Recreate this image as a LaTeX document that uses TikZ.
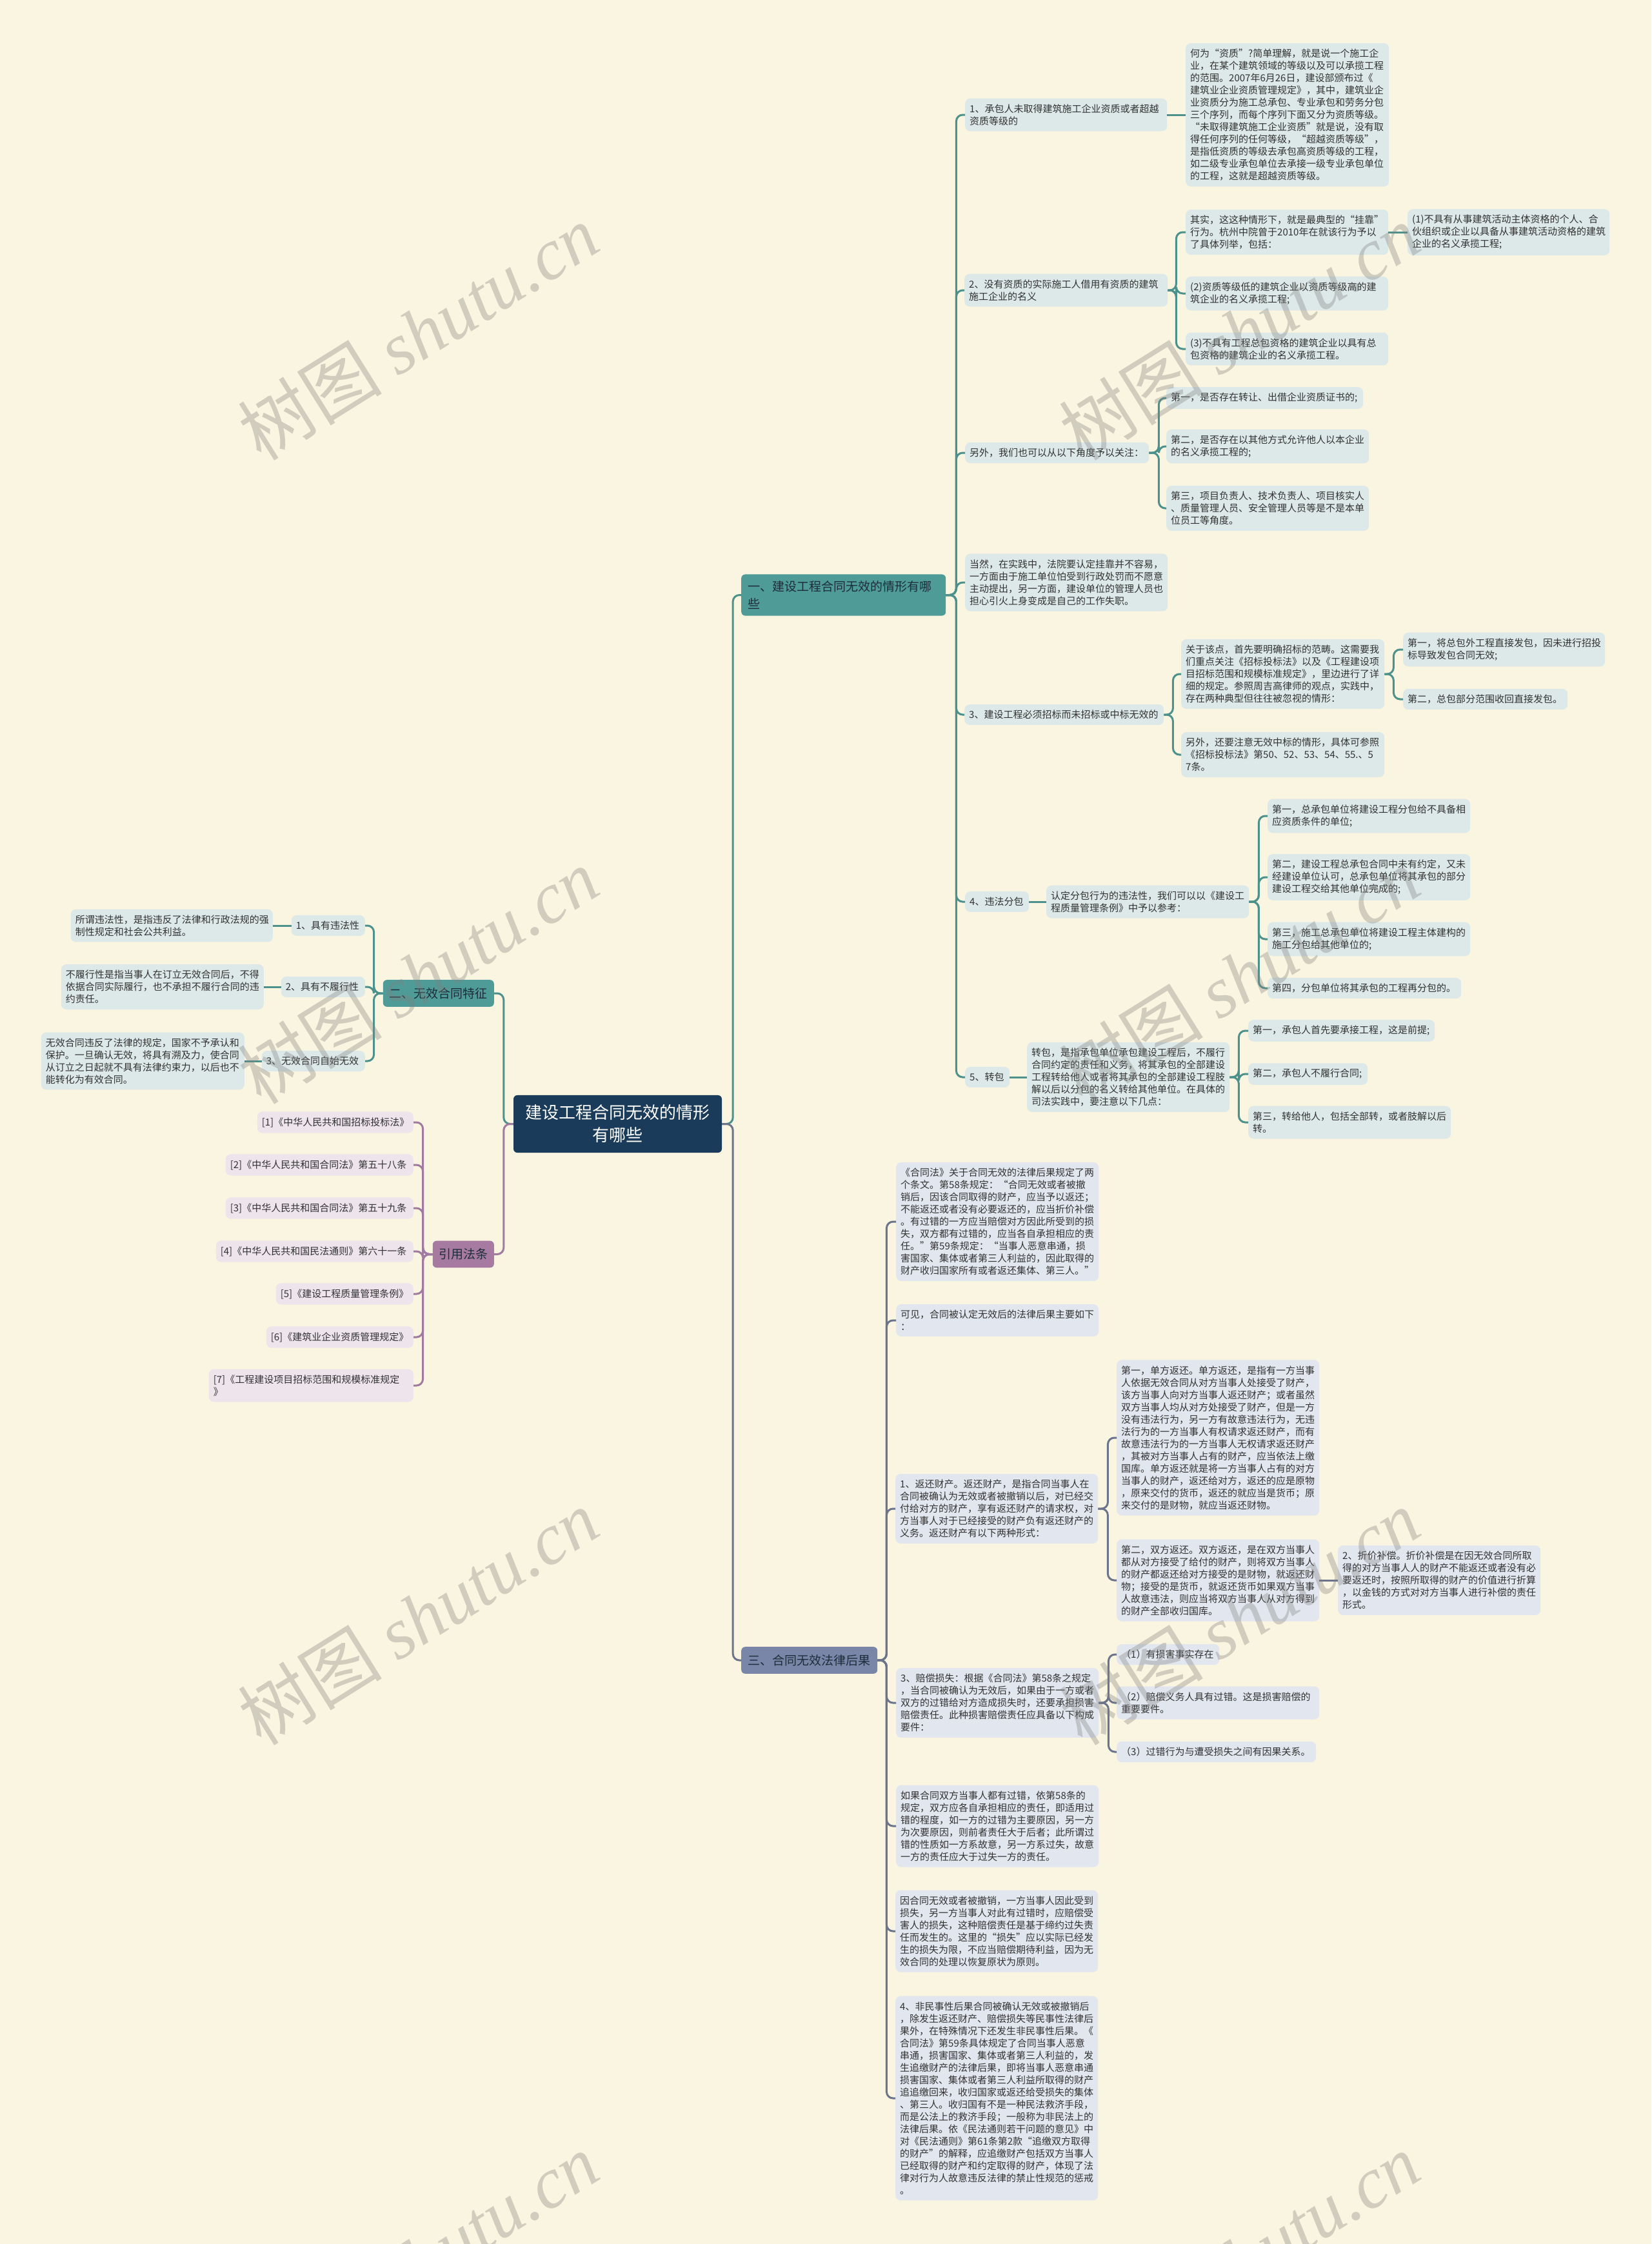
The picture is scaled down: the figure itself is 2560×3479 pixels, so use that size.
\documentclass[tikz,border=0pt]{standalone}
\usepackage{fontspec}
\setmainfont{Noto Sans CJK SC}
\newfontfamily\wmserif{Liberation Serif}
\definecolor{bg}{RGB}{250,245,224}
\definecolor{leafA}{RGB}{221,233,232}
\definecolor{leafC}{RGB}{226,230,238}
\definecolor{leafR}{RGB}{237,228,236}
\definecolor{hdA}{RGB}{79,155,151}
\definecolor{hdC}{RGB}{122,134,168}
\definecolor{hdR}{RGB}{166,122,161}
\definecolor{navy}{RGB}{26,60,90}
\definecolor{lnA}{RGB}{77,145,140}
\definecolor{lnC}{RGB}{108,116,140}
\definecolor{lnR}{RGB}{160,122,160}
\definecolor{txt}{RGB}{50,50,50}
\definecolor{hdtxt}{RGB}{30,45,58}
\tikzset{
  leaf/.style={rounded corners=8pt, anchor=west, align=left, inner xsep=7pt, inner ysep=9pt,
    font=\fontsize{15}{19}\selectfont, text=txt},
  la/.style={leaf, fill=leafA},
  lc/.style={leaf, fill=leafC},
  lr/.style={leaf, fill=leafR},
  hd/.style={rounded corners=6pt, anchor=west, align=left, inner xsep=10pt, inner ysep=12pt,
    font=\fontsize{19}{27}\selectfont, text=hdtxt},
  rootbox/.style={rounded corners=6pt, fill=navy, text=white, align=center, inner xsep=10pt,
    inner ysep=15pt, font=\fontsize{26}{35}\selectfont},
  cA/.style={draw=lnA, line width=3pt, rounded corners=10pt},
  cC/.style={draw=lnC, line width=3pt, rounded corners=10pt},
  cR/.style={draw=lnR, line width=3pt, rounded corners=10pt},
  wm/.style={rotate=32, text=gray, opacity=0.34, font=\fontsize{112}{112}\selectfont}
}
\begin{document}
\begin{tikzpicture}[x=1pt,y=-1pt]
\fill[bg] (0,0) rectangle (2560,3479);
\useasboundingbox (0,0) rectangle (2560,3479);

% root
\node[rootbox, text width=303pt] (root) at (957.5,1742.5) {建设工程合同无效的情形\\有哪些};

% section headers
\node[hd, fill=hdA, inner ysep=10pt, text width=297pt] (s1) at (1149,922.5) {一、建设工程合同无效的情形有哪\\些};
\node[hd, fill=hdC, text width=191pt] (s3) at (1149,2574) {三、合同无效法律后果};
\node[hd, fill=hdA, anchor=east, text width=152pt] (s2) at (766,1540) {二、无效合同特征};
\node[hd, fill=hdR, anchor=east, text width=76pt, inner xsep=9.5pt] (s4) at (766,1944.5) {引用法条};

% ---------- section 1 ----------
\node[la, text width=299pt] (c1) at (1496,178) {1、承包人未取得建筑施工企业资质或者超越\\资质等级的};
\node[la, text width=301pt] (p1) at (1838,178) {何为“资质”?简单理解，就是说一个施工企\\业，在某个建筑领域的等级以及可以承揽工程\\的范围。2007年6月26日，建设部颁布过《\\建筑业企业资质管理规定》，其中，建筑业企\\业资质分为施工总承包、专业承包和劳务分包\\三个序列，而每个序列下面又分为资质等级。\\“未取得建筑施工企业资质”就是说，没有取\\得任何序列的任何等级，“超越资质等级”，\\是指低资质的等级去承包高资质等级的工程，\\如二级专业承包单位去承接一级专业承包单位\\的工程，这就是超越资质等级。};

\node[la, text width=301pt] (c2) at (1495,450) {2、没有资质的实际施工人借用有资质的建筑\\施工企业的名义};
\node[la, text width=300pt] (c2a) at (1838,360) {其实，这这种情形下，就是最典型的“挂靠”\\行为。杭州中院曾于2010年在就该行为予以\\了具体列举，包括：};
\node[la, text width=299pt] (c2a1) at (2182,360) {(1)不具有从事建筑活动主体资格的个人、合\\伙组织或企业以具备从事建筑活动资格的建筑\\企业的名义承揽工程;};
\node[la, text width=300pt] (c2b) at (1838,455) {(2)资质等级低的建筑企业以资质等级高的建\\筑企业的名义承揽工程;};
\node[la, text width=300pt] (c2c) at (1838,541) {(3)不具有工程总包资格的建筑企业以具有总\\包资格的建筑企业的名义承揽工程。};

\node[la, text width=271pt] (c3) at (1496,702) {另外，我们也可以从以下角度予以关注：};
\node[la, text width=291pt] (c3a) at (1808,617) {第一，是否存在转让、出借企业资质证书的;};
\node[la, text width=300pt] (c3b) at (1808,692) {第二，是否存在以其他方式允许他人以本企业\\的名义承揽工程的;};
\node[la, text width=300pt] (c3c) at (1808,788) {第三，项目负责人、技术负责人、项目核实人\\、质量管理人员、安全管理人员等是不是本单\\位员工等角度。};

\node[la, text width=300pt] (c4) at (1496,903) {当然，在实践中，法院要认定挂靠并不容易，\\一方面由于施工单位怕受到行政处罚而不愿意\\主动提出，另一方面，建设单位的管理人员也\\担心引火上身变成是自己的工作失职。};

\node[la, text width=295pt] (c5) at (1495,1108) {3、建设工程必须招标而未招标或中标无效的};
\node[la, text width=301pt] (c5a) at (1831,1045) {关于该点，首先要明确招标的范畴。这需要我\\们重点关注《招标投标法》以及《工程建设项\\目招标范围和规模标准规定》，里边进行了详\\细的规定。参照周吉高律师的观点，实践中，\\存在两种典型但往往被忽视的情形：};
\node[la, text width=299pt] (c5a1) at (2175,1007) {第一，将总包外工程直接发包，因未进行招投\\标导致发包合同无效;};
\node[la, text width=241pt] (c5a2) at (2175,1084) {第二，总包部分范围收回直接发包。};
\node[la, text width=301pt] (c5b) at (1831,1170) {另外，还要注意无效中标的情形，具体可参照\\《招标投标法》第50、52、53、54、55.、5\\7条。};

\node[la, text width=85pt] (c6) at (1496,1398) {4、违法分包};
\node[la, text width=300pt] (c6a) at (1622,1398) {认定分包行为的违法性，我们可以以《建设工\\程质量管理条例》中予以参考：};
\node[la, text width=300pt] (c6a1) at (1965,1265) {第一，总承包单位将建设工程分包给不具备相\\应资质条件的单位;};
\node[la, text width=300pt] (c6a2) at (1965,1360) {第二，建设工程总承包合同中未有约定，又未\\经建设单位认可，总承包单位将其承包的部分\\建设工程交给其他单位完成的;};
\node[la, text width=300pt] (c6a3) at (1965,1456) {第三，施工总承包单位将建设工程主体建构的\\施工分包给其他单位的;};
\node[la, text width=286pt] (c6a4) at (1965,1532) {第四，分包单位将其承包的工程再分包的。};

\node[la, text width=55pt] (c7) at (1496,1670) {5、转包};
\node[la, text width=300pt] (c7a) at (1592,1670) {转包，是指承包单位承包建设工程后，不履行\\合同约定的责任和义务，将其承包的全部建设\\工程转给他人或者将其承包的全部建设工程肢\\解以后以分包的名义转给其他单位。在具体的\\司法实践中，要注意以下几点：};
\node[la, text width=275pt] (c7a1) at (1935,1598) {第一，承包人首先要承接工程，这是前提;};
\node[la, text width=171pt] (c7a2) at (1935,1665) {第二，承包人不履行合同;};
\node[la, text width=300pt] (c7a3) at (1935,1740) {第三，转给他人，包括全部转，或者肢解以后\\转。};

% ---------- section 2 ----------
\node[la, anchor=east, text width=100pt] (e1) at (566,1435) {1、具有违法性};
\node[la, anchor=east, text width=299pt] (e1a) at (423,1435) {所谓违法性，是指违反了法律和行政法规的强\\制性规定和社会公共利益。};
\node[la, anchor=east, text width=116pt] (e2) at (566,1530) {2、具有不履行性};
\node[la, anchor=east, text width=300pt] (e2a) at (409,1530) {不履行性是指当事人在订立无效合同后，不得\\依据合同实际履行，也不承担不履行合同的违\\约责任。};
\node[la, anchor=east, text width=146pt] (e3) at (566,1645) {3、无效合同自始无效};
\node[la, anchor=east, text width=301pt] (e3a) at (379,1645) {无效合同违反了法律的规定，国家不予承认和\\保护。一旦确认无效，将具有溯及力，使合同\\从订立之日起就不具有法律约束力，以后也不\\能转化为有效合同。};

% ---------- references ----------
\node[lr, anchor=east, text width=228pt] (f1) at (641,1740) {[1]《中华人民共和国招标投标法》};
\node[lr, anchor=east, text width=277pt] (f2) at (641,1806) {[2]《中华人民共和国合同法》第五十八条};
\node[lr, anchor=east, text width=277pt] (f3) at (641,1873) {[3]《中华人民共和国合同法》第五十九条};
\node[lr, anchor=east, text width=292pt] (f4) at (641,1940) {[4]《中华人民共和国民法通则》第六十一条};
\node[lr, anchor=east, text width=199pt] (f5) at (641,2006) {[5]《建设工程质量管理条例》};
\node[lr, anchor=east, text width=214pt] (f6) at (641,2073) {[6]《建筑业企业资质管理规定》};
\node[lr, anchor=east, text width=303pt] (f7) at (641,2148) {[7]《工程建设项目招标范围和规模标准规定\\》};

% ---------- section 3 ----------
\node[lc, text width=300pt] (d1) at (1389,1894) {《合同法》关于合同无效的法律后果规定了两\\个条文。第58条规定：“合同无效或者被撤\\销后，因该合同取得的财产，应当予以返还；\\不能返还或者没有必要返还的，应当折价补偿\\。有过错的一方应当赔偿对方因此所受到的损\\失，双方都有过错的，应当各自承担相应的责\\任。”第59条规定：“当事人恶意串通，损\\害国家、集体或者第三人利益的，因此取得的\\财产收归国家所有或者返还集体、第三人。”};
\node[lc, text width=300pt] (d2) at (1389,2047) {可见，合同被认定无效后的法律后果主要如下\\：};
\node[lc, text width=300pt] (d3) at (1388,2339) {1、返还财产。返还财产，是指合同当事人在\\合同被确认为无效或者被撤销以后，对已经交\\付给对方的财产，享有返还财产的请求权，对\\方当事人对于已经接受的财产负有返还财产的\\义务。返还财产有以下两种形式：};
\node[lc, text width=300pt] (d3a) at (1731,2229) {第一，单方返还。单方返还，是指有一方当事\\人依据无效合同从对方当事人处接受了财产，\\该方当事人向对方当事人返还财产；或者虽然\\双方当事人均从对方处接受了财产，但是一方\\没有违法行为，另一方有故意违法行为，无违\\法行为的一方当事人有权请求返还财产，而有\\故意违法行为的一方当事人无权请求返还财产\\，其被对方当事人占有的财产，应当依法上缴\\国库。单方返还就是将一方当事人占有的对方\\当事人的财产，返还给对方，返还的应是原物\\，原来交付的货币，返还的就应当是货币；原\\来交付的是财物，就应当返还财物。};
\node[lc, text width=300pt] (d3b) at (1731,2450) {第二，双方返还。双方返还，是在双方当事人\\都从对方接受了给付的财产，则将双方当事人\\的财产都返还给对方接受的是财物，就返还财\\物；接受的是货币，就返还货币如果双方当事\\人故意违法，则应当将双方当事人从对方得到\\的财产全部收归国库。};
\node[lc, text width=300pt] (d3b1) at (2074,2450) {2、折价补偿。折价补偿是在因无效合同所取\\得的对方当事人人的财产不能返还或者没有必\\要返还时，按照所取得的财产的价值进行折算\\，以金钱的方式对对方当事人进行补偿的责任\\形式。};
\node[lc, text width=300pt] (d4) at (1389,2640) {3、赔偿损失：根据《合同法》第58条之规定\\，当合同被确认为无效后，如果由于一方或者\\双方的过错给对方造成损失时，还要承担损害\\赔偿责任。此种损害赔偿责任应具备以下构成\\要件：};
\node[lc, text width=145pt] (d4a) at (1731,2565) {（1）有损害事实存在};
\node[lc, text width=300pt] (d4b) at (1731,2640) {（2）赔偿义务人具有过错。这是损害赔偿的\\重要要件。};
\node[lc, text width=295pt] (d4c) at (1731,2716) {（3）过错行为与遭受损失之间有因果关系。};
\node[lc, text width=300pt] (d5) at (1389,2831) {如果合同双方当事人都有过错，依第58条的\\规定，双方应各自承担相应的责任，即适用过\\错的程度，如一方的过错为主要原因，另一方\\为次要原因，则前者责任大于后者；此所谓过\\错的性质如一方系故意，另一方系过失，故意\\一方的责任应大于过失一方的责任。};
\node[lc, text width=300pt] (d6) at (1388,2994) {因合同无效或者被撤销，一方当事人因此受到\\损失，另一方当事人对此有过错时，应赔偿受\\害人的损失，这种赔偿责任是基于缔约过失责\\任而发生的。这里的“损失”应以实际已经发\\生的损失为限，不应当赔偿期待利益，因为无\\效合同的处理以恢复原状为原则。};
\node[lc, text width=300pt] (d7) at (1388,3253) {4、非民事性后果合同被确认无效或被撤销后\\，除发生返还财产、赔偿损失等民事性法律后\\果外，在特殊情况下还发生非民事性后果。《\\合同法》第59条具体规定了合同当事人恶意\\串通，损害国家、集体或者第三人利益的，发\\生追缴财产的法律后果，即将当事人恶意串通\\损害国家、集体或者第三人利益所取得的财产\\追追缴回来，收归国家或返还给受损失的集体\\、第三人。收归国有不是一种民法救济手段，\\而是公法上的救济手段；一般称为非民法上的\\法律后果。依《民法通则若干问题的意见》中\\对《民法通则》第61条第2款“追缴双方取得\\的财产”的解释，应追缴财产包括双方当事人\\已经取得的财产和约定取得的财产，体现了法\\律对行为人故意违反法律的禁止性规范的惩戒\\。};

% ---------- connectors ----------
\draw[cA] (root.east) -- ++(17,0) |- (s1.west);
\draw[cC] (root.east) -- ++(17,0) |- (s3.west);
\draw[cA] (root.west) -- ++(-15,0) |- (s2.east);
\draw[cR] (root.west) -- ++(-15,0) |- (s4.east);

\foreach \kid in {c1,c2,c3,c4,c5,c6,c7} \draw[cA] (s1.east) -- ++(16,0) |- (\kid.west);
\draw[cA] (c1.east) -- (c1.east -| p1.west);
\foreach \kid in {c2a,c2b,c2c} \draw[cA] (c2.east) -- ++(13,0) |- (\kid.west);
\draw[cA] (c2a.east) -- (c2a.east -| c2a1.west);
\foreach \kid in {c3a,c3b,c3c} \draw[cA] (c3.east) -- ++(15,0) |- (\kid.west);
\foreach \kid in {c5a,c5b} \draw[cA] (c5.east) -- ++(14,0) |- (\kid.west);
\foreach \kid in {c5a1,c5a2} \draw[cA] (c5a.east) -- ++(14,0) |- (\kid.west);
\draw[cA] (c6.east) -- (c6.east -| c6a.west);
\foreach \kid in {c6a1,c6a2,c6a3,c6a4} \draw[cA] (c6a.east) -- ++(15,0) |- (\kid.west);
\draw[cA] (c7.east) -- (c7.east -| c7a.west);
\foreach \kid in {c7a1,c7a2,c7a3} \draw[cA] (c7a.east) -- ++(14,0) |- (\kid.west);

\foreach \kid in {e1,e2,e3} \draw[cA] (s2.west) -- ++(-14,0) |- (\kid.east);
\draw[cA] (e1.west) -- (e1.west -| e1a.east);
\draw[cA] (e2.west) -- (e2.west -| e2a.east);
\draw[cA] (e3.west) -- (e3.west -| e3a.east);

\foreach \kid in {f1,f2,f3,f4,f5,f6,f7} \draw[cR] (s4.west) -- ++(-15,0) |- (\kid.east);

\foreach \kid in {d1,d2,d3,d4,d5,d6,d7} \draw[cC] (s3.east) -- ++(14,0) |- (\kid.west);
\foreach \kid in {d3a,d3b} \draw[cC] (d3.east) -- ++(15,0) |- (\kid.west);
\draw[cC] (d3b.east) -- (d3b.east -| d3b1.west);
\foreach \kid in {d4a,d4b,d4c} \draw[cC] (d4.east) -- ++(15,0) |- (\kid.west);

% ---------- watermarks ----------
\foreach \wx/\wy/\wn in {648/515/w1,1921/515/w2,648/1513/w3,1921/1513/w4,648/2507/w5,1921/2507/w6,648/3505/w7,1921/3505/w8}
  \node[wm] (\wn) at (\wx,\wy) {树图 {\wmserif\itshape shutu.cn}};
\end{tikzpicture}
\end{document}
